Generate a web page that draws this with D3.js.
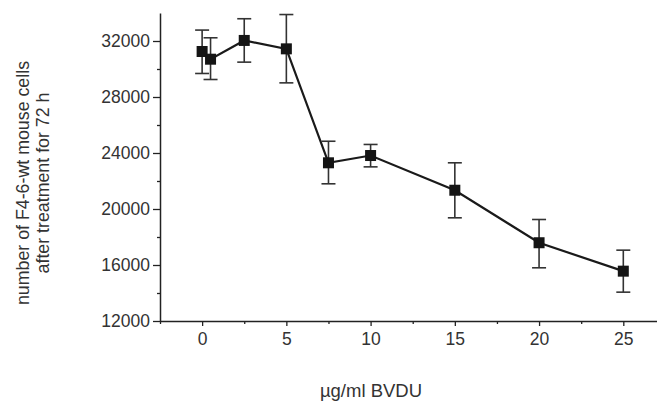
<!DOCTYPE html>
<html>
<head>
<meta charset="utf-8">
<script src="https://cdn.jsdelivr.net/npm/d3@7"></script>
<style>
  body { margin: 0; background: #fff; }
  text { font-family: "Liberation Sans", Arial, Helvetica, sans-serif; }
</style>
</head>
<body>
<div id="mainDiv"></div>
<script>

// BVDU concentration (ug/ml) and cell counts after 72 h
var doses = [0, 0.5, 2.5, 5, 7.5, 10, 15, 20, 25];
var cellCounts = [31250, 30700, 32040, 31440, 23300, 23820, 21340, 17590, 15560];
var errUpper = [32780, 32230, 33590, 33890, 24840, 24610, 23300, 19250, 17060];
var errLower = [29680, 29250, 30490, 29010, 21800, 23010, 19370, 15800, 14060];

var xTicks = [0, 5, 10, 15, 20, 25];
var xMinorTicks = [-2.5, 2.5, 7.5, 12.5, 17.5, 22.5];
var yTicks = [12000, 16000, 20000, 24000, 28000, 32000];
var yMinorTicks = [14000, 18000, 22000, 26000, 30000];

var xLabel = "\u00b5g/ml BVDU";
var yLabelLines = ["number of F4-6-wt mouse cells", "after treatment for 72 h"];

var width = 657, height = 407;
var plotLeft = 160, plotRight = 657, plotTop = 13, plotBottom = 321;
var textColor = "#333";

var svg = d3.select("#mainDiv").append("svg")
    .attr("width", width).attr("height", height).attr("id", "mainCanvas");

var x = d3.scaleLinear().domain([-2.5, 27]).range([plotLeft, plotRight]);
var y = d3.scaleLinear().domain([12000, 34000]).range([plotBottom, plotTop]);

// axes
var xAxis = svg.append("g").attr("transform", "translate(0," + plotBottom + ")")
    .call(d3.axisBottom(x).tickValues(xTicks).tickSize(5).tickPadding(6)
        .tickFormat(d3.format("d")).tickSizeOuter(0));
svg.append("g").attr("transform", "translate(0," + plotBottom + ")")
    .call(d3.axisBottom(x).tickValues(xMinorTicks).tickSize(3).tickFormat("").tickSizeOuter(0))
    .select(".domain").remove();

var yAxis = svg.append("g").attr("transform", "translate(" + plotLeft + ",0)")
    .call(d3.axisLeft(y).tickValues(yTicks).tickSize(7).tickPadding(3)
        .tickFormat(d3.format("d")).tickSizeOuter(0));
svg.append("g").attr("transform", "translate(" + plotLeft + ",0)")
    .call(d3.axisLeft(y).tickValues(yMinorTicks).tickSize(3).tickFormat("").tickSizeOuter(0))
    .select(".domain").remove();

svg.selectAll(".domain").attr("stroke", "#222").attr("stroke-width", 1.5);
svg.selectAll(".tick line").attr("stroke", "#222").attr("stroke-width", 1.3);
svg.selectAll(".tick text").attr("fill", textColor).attr("font-size", "17.5px")
    .attr("font-family", "'Liberation Sans', Arial, sans-serif");
xAxis.selectAll(".tick text").attr("dy", "0.72em");

// axis titles
svg.append("text").attr("x", 371).attr("y", 397).attr("text-anchor", "middle")
    .attr("font-size", "18.5px").attr("fill", textColor).text(xLabel);

var yTitle = svg.append("text").attr("text-anchor", "middle")
    .attr("transform", "translate(29,183) rotate(-90)")
    .attr("font-size", "17.8px").attr("fill", textColor);
yLabelLines.forEach(function (line, i) {
    yTitle.append("tspan").attr("x", 0).attr("dy", i === 0 ? 0 : 20).text(line);
});

// error bars
var capHalf = 7;
var errGroup = svg.append("g").attr("stroke", "#333").attr("stroke-width", 1.6);
doses.forEach(function (d, i) {
    var cx = x(d);
    errGroup.append("line").attr("x1", cx).attr("x2", cx)
        .attr("y1", y(errUpper[i])).attr("y2", y(errLower[i]));
    errGroup.append("line").attr("x1", cx - capHalf).attr("x2", cx + capHalf)
        .attr("y1", y(errUpper[i])).attr("y2", y(errUpper[i]));
    errGroup.append("line").attr("x1", cx - capHalf).attr("x2", cx + capHalf)
        .attr("y1", y(errLower[i])).attr("y2", y(errLower[i]));
});

// connecting line
var line = d3.line().x(function (d, i) { return x(d); })
    .y(function (d, i) { return y(cellCounts[i]); });
svg.append("path").datum(doses).attr("d", line)
    .attr("fill", "none").attr("stroke", "#1a1a1a").attr("stroke-width", 2.2);

// square markers
var markerSize = 11;
svg.selectAll("rect.marker").data(doses).enter().append("rect")
    .attr("class", "marker")
    .attr("x", function (d) { return x(d) - markerSize / 2; })
    .attr("y", function (d, i) { return y(cellCounts[i]) - markerSize / 2; })
    .attr("width", markerSize).attr("height", markerSize)
    .attr("fill", "#141414");

</script>
</body>
</html>
